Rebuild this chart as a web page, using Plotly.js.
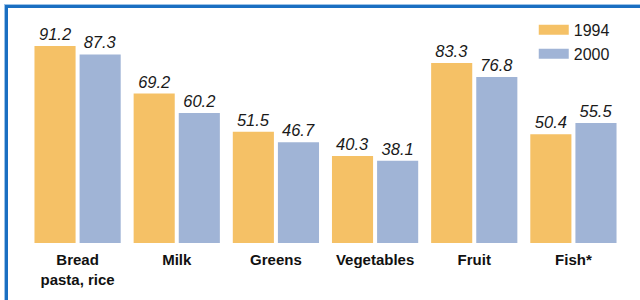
<!DOCTYPE html>
<html>
<head>
<meta charset="utf-8">
<script src="https://cdn.plot.ly/plotly-3.0.1.min.js"></script>
<style>
  html, body { margin: 0; padding: 0; background: #fff; }
  #wrap { position: relative; width: 640px; height: 300px; overflow: hidden; }
  #chart { width: 640px; height: 300px; }
  #frame { position: absolute; left: 5px; top: 5px; width: 700px; height: 400px;
           border-top: 3px solid #1a6fc2; border-left: 3px solid #1a6fc2;
           box-shadow: -1px -1px 0 #9cc3e8; pointer-events: none; }
</style>
</head>
<body>
<div id="wrap">
  <div id="chart"></div>
  <div id="frame"></div>
</div>
<script>
const categories = ["Bread<br>pasta, rice", "Milk", "Greens", "Vegetables", "Fruit", "Fish*"];
const values1994 = [91.2, 69.2, 51.5, 40.3, 83.3, 50.4];
const values2000 = [87.3, 60.2, 46.7, 38.1, 76.8, 55.5];
const seriesNames = ["1994", "2000"];
const colors = ["#f5c166", "#a0b4d6"];

const valueFont = { family: "Liberation Sans, Arial, sans-serif", size: 16.5, color: "#1a1a1a", style: "italic" };

function barTrace(name, vals, color) {
  return {
    type: "bar", name: name, x: categories, y: vals,
    marker: { color: color, line: { width: 0 } },
    text: vals.map(v => v.toFixed(1)), textposition: "outside",
    textfont: valueFont, cliponaxis: false, showlegend: false,
    hoverinfo: "skip"
  };
}
function legendTrace(name, color) {
  return {
    type: "scatter", mode: "lines", name: name, x: [null], y: [null],
    line: { color: color, width: 12 }, showlegend: true, hoverinfo: "skip"
  };
}

const data = [
  barTrace(seriesNames[0], values1994, colors[0]),
  barTrace(seriesNames[1], values2000, colors[1]),
  legendTrace(seriesNames[0], colors[0]),
  legendTrace(seriesNames[1], colors[1])
];

const layout = {
  width: 640, height: 300,
  margin: { l: 28, r: 17, t: 27, b: 57 },
  paper_bgcolor: "#ffffff", plot_bgcolor: "#ffffff",
  barmode: "group", bargap: 0.09, bargroupgap: 0.089,
  showlegend: true,
  legend: {
    x: 0.85, y: 1.065, xanchor: "left", yanchor: "top",
    bgcolor: "rgba(0,0,0,0)", borderwidth: 0,
    font: { family: "Liberation Sans, Arial, sans-serif", size: 16, color: "#1a1a1a" },
    traceorder: "normal", tracegroupgap: 0
  },
  xaxis: {
    type: "category", showgrid: false, zeroline: false, showline: false,
    ticks: "", ticklabelstandoff: 6,
    tickfont: { family: "Liberation Sans, Arial, sans-serif", size: 15, color: "#111111", weight: "bold" }
  },
  yaxis: {
    range: [0, 100], showgrid: false, zeroline: false, showline: false,
    showticklabels: false, ticks: ""
  }
};

Plotly.newPlot("chart", data, layout, { staticPlot: true, displayModeBar: false });
</script>
</body>
</html>
